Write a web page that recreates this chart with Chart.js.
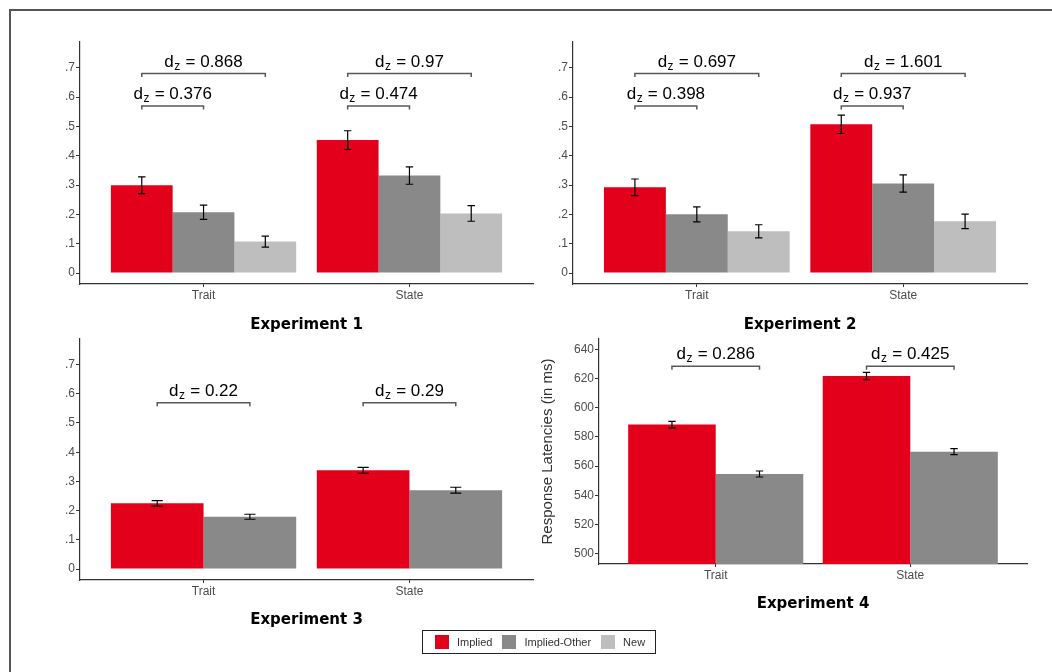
<!DOCTYPE html>
<html>
<head>
    <title>Experiments 1-4</title>
    <script src="https://cdn.jsdelivr.net/npm/chart.js"></script>
    <style>
        body { margin: 0; background: #fff; }
        #page { position: relative; width: 1052px; height: 672px; overflow: hidden; }
        #frame { position: absolute; left: 9px; top: 9px; width: 1100px; height: 700px;
                 border-left: 2px solid #555; border-top: 2px solid #555; }
        canvas { position: absolute; }
        #legend { position: absolute; left: 422px; top: 630px; width: 234px; height: 24px;
                  border: 1px solid #222; display: flex; align-items: center; padding-left: 12px;
                  box-sizing: border-box; white-space: nowrap; overflow: hidden;
                  font: 11px 'Liberation Sans', Arial, sans-serif; color: #333; }
        #legend .item { display: flex; align-items: center; margin-right: 10px; flex-shrink: 0; }
        #legend .sw { width: 14px; height: 14px; margin-right: 8px; flex-shrink: 0; }
    </style>
</head>
<body>
<div id="page">
    <div id="frame"></div>
    <canvas id="exp1" width="510" height="305" style="left:30px; top:30px"></canvas>
    <canvas id="exp2" width="510" height="305" style="left:530px; top:30px"></canvas>
    <canvas id="exp3" width="510" height="305" style="left:30px; top:330px"></canvas>
    <canvas id="exp4" width="510" height="290" style="left:530px; top:330px"></canvas>
    <div id="legend"></div>
</div>

<script>
    const categories = ['Trait', 'State'];
    const seriesNames = ['Implied', 'Implied-Other', 'New'];
    const seriesColors = ['#e2001a', '#898989', '#bebebe'];

    const propTicks = [0, 0.1, 0.2, 0.3, 0.4, 0.5, 0.6, 0.7];
    const propTickLabels = ['0', '.1', '.2', '.3', '.4', '.5', '.6', '.7'];
    const latencyTicks = [500, 520, 540, 560, 580, 600, 620, 640];
    const latencyTickLabels = ['500', '520', '540', '560', '580', '600', '620', '640'];

    // Experiment 1
    const exp1Implied = [0.299, 0.453];
    const exp1Other = [0.207, 0.332];
    const exp1New = [0.107, 0.203];
    const exp1ImpliedSe = [0.0285, 0.032];
    const exp1OtherSe = [0.0245, 0.0295];
    const exp1NewSe = [0.0185, 0.0265];
    const exp1Brackets = [
        { cat: 0, from: 0, to: 1, y: 0.569, d: '0.376' },
        { cat: 0, from: 0, to: 2, y: 0.68, d: '0.868' },
        { cat: 1, from: 0, to: 1, y: 0.569, d: '0.474' },
        { cat: 1, from: 0, to: 2, y: 0.68, d: '0.97' }
    ];

    // Experiment 2
    const exp2Implied = [0.292, 0.507];
    const exp2Other = [0.200, 0.305];
    const exp2New = [0.142, 0.176];
    const exp2ImpliedSe = [0.0285, 0.0315];
    const exp2OtherSe = [0.0255, 0.0295];
    const exp2NewSe = [0.0225, 0.025];
    const exp2Brackets = [
        { cat: 0, from: 0, to: 1, y: 0.569, d: '0.398' },
        { cat: 0, from: 0, to: 2, y: 0.68, d: '0.697' },
        { cat: 1, from: 0, to: 1, y: 0.569, d: '0.937' },
        { cat: 1, from: 0, to: 2, y: 0.68, d: '1.601' }
    ];

    // Experiment 3
    const exp3Implied = [0.225, 0.338];
    const exp3Other = [0.179, 0.270];
    const exp3ImpliedSe = [0.0095, 0.010];
    const exp3OtherSe = [0.0085, 0.010];
    const exp3Brackets = [
        { cat: 0, from: 0, to: 1, y: 0.569, d: '0.22' },
        { cat: 1, from: 0, to: 1, y: 0.569, d: '0.29' }
    ];

    // Experiment 4 (response latencies in ms)
    const exp4Implied = [588.4, 621.6];
    const exp4Other = [554.6, 569.9];
    const exp4ImpliedSe = [2.2, 2.5];
    const exp4OtherSe = [2.05, 2.05];
    const exp4Brackets = [
        { cat: 0, from: 0, to: 1, y: 628.3, d: '0.286' },
        { cat: 1, from: 0, to: 1, y: 628.3, d: '0.425' }
    ];

    const tickFont = { family: "'Liberation Sans', Arial, sans-serif", size: 12 };
    const titleFont = { family: "'DejaVu Sans', sans-serif", size: 15, weight: 'bold' };

    function drawEffect(ctx, cx, baseline, value) {
        const big = "17px 'Liberation Sans', Arial, sans-serif";
        const small = "12px 'Liberation Sans', Arial, sans-serif";
        const rest = ' = ' + value;
        ctx.font = big;
        const wd = ctx.measureText('d').width;
        const wr = ctx.measureText(rest).width;
        ctx.font = small;
        const wz = ctx.measureText('z').width + 1;
        let x = cx - (wd + wz + wr) / 2;
        ctx.fillStyle = '#000';
        ctx.textAlign = 'left';
        ctx.textBaseline = 'alphabetic';
        ctx.font = big;
        ctx.fillText('d', x, baseline);
        x += wd;
        ctx.font = small;
        ctx.fillText('z', x + 0.5, baseline + 3);
        x += wz;
        ctx.font = big;
        ctx.fillText(rest, x, baseline);
    }

    // error bars from the se arrays, drawn on top of the bars
    function errorBarPlugin(errors, capRatio) {
        return {
            id: 'errorBars',
            afterDatasetsDraw(chart) {
                const ctx = chart.ctx;
                const yScale = chart.scales.y;
                ctx.save();
                ctx.strokeStyle = '#000';
                ctx.lineWidth = 1.2;
                chart.data.datasets.forEach((ds, i) => {
                    chart.getDatasetMeta(i).data.forEach((bar, j) => {
                        const v = ds.data[j].y;
                        const e = errors[i][j];
                        const top = yScale.getPixelForValue(v + e);
                        const bot = yScale.getPixelForValue(v - e);
                        const half = bar.width * capRatio;
                        ctx.beginPath();
                        ctx.moveTo(bar.x, top); ctx.lineTo(bar.x, bot);
                        ctx.moveTo(bar.x - half, top); ctx.lineTo(bar.x + half, top);
                        ctx.moveTo(bar.x - half, bot); ctx.lineTo(bar.x + half, bot);
                        ctx.stroke();
                    });
                });
                ctx.restore();
            }
        };
    }

    // comparison brackets with effect sizes
    function bracketPlugin(brackets) {
        return {
            id: 'brackets',
            afterDatasetsDraw(chart) {
                const ctx = chart.ctx;
                const yScale = chart.scales.y;
                ctx.save();
                brackets.forEach(b => {
                    const x1 = chart.getDatasetMeta(b.from).data[b.cat].x;
                    const x2 = chart.getDatasetMeta(b.to).data[b.cat].x;
                    const py = yScale.getPixelForValue(b.y);
                    ctx.strokeStyle = '#595959';
                    ctx.lineWidth = 1.5;
                    ctx.beginPath();
                    ctx.moveTo(x1, py + 3.5);
                    ctx.lineTo(x1, py);
                    ctx.lineTo(x2, py);
                    ctx.lineTo(x2, py + 3.5);
                    ctx.stroke();
                    drawEffect(ctx, (x1 + x2) / 2, py - 7, b.d);
                });
                ctx.restore();
            }
        };
    }

    function makeChart(id, cfg) {
        const datasets = cfg.means.map((m, i) => ({
            label: seriesNames[i],
            data: m.map((v, j) => ({ x: j + 1, y: v })),
            backgroundColor: seriesColors[i],
            borderWidth: 0,
            categoryPercentage: 0.9,
            barPercentage: 1,
            clip: 0
        }));

        return new Chart(document.getElementById(id), {
            type: 'bar',
            data: { datasets: datasets },
            options: {
                responsive: false,
                animation: false,
                events: [],
                layout: { padding: cfg.padding },
                plugins: {
                    legend: { display: false },
                    tooltip: { enabled: false }
                },
                scales: {
                    x: {
                        type: 'linear',
                        min: 0.4,
                        max: 2.6,
                        offset: false,
                        afterBuildTicks: s => { s.ticks = categories.map((c, i) => ({ value: i + 1 })); },
                        afterFit: s => { s.height = cfg.xHeight; },
                        ticks: {
                            callback: (v, i) => categories[i],
                            font: tickFont,
                            color: '#4d4d4d',
                            padding: 1,
                            maxRotation: 0,
                            autoSkip: false
                        },
                        grid: { offset: false, drawOnChartArea: false, tickLength: 3, color: '#333' },
                        border: { color: '#333', width: 1.2 },
                        title: {
                            display: true,
                            text: cfg.title,
                            font: titleFont,
                            color: '#000',
                            padding: { top: 0, bottom: cfg.titlePad }
                        }
                    },
                    y: {
                        min: cfg.yMin,
                        max: cfg.yMax,
                        beginAtZero: false,
                        afterBuildTicks: s => { s.ticks = cfg.ticks.map(v => ({ value: v })); },
                        afterFit: s => { s.width = cfg.yWidth; },
                        ticks: {
                            callback: (v, i) => cfg.tickLabels[i],
                            font: tickFont,
                            color: '#4d4d4d',
                            padding: 1,
                            autoSkip: false
                        },
                        grid: { drawOnChartArea: false, tickLength: 4, color: '#333' },
                        border: { color: '#333', width: 1.2 },
                        title: cfg.yTitle ? {
                            display: true,
                            text: cfg.yTitle,
                            font: { family: "'Liberation Sans', Arial, sans-serif", size: 15 },
                            color: '#333',
                            padding: { top: 9, bottom: 0 }
                        } : { display: false }
                    }
                }
            },
            plugins: [errorBarPlugin(cfg.errors, cfg.capRatio), bracketPlugin(cfg.brackets)]
        });
    }

    makeChart('exp1', {
        title: 'Experiment 1',
        means: [exp1Implied, exp1Other, exp1New],
        errors: [exp1ImpliedSe, exp1OtherSe, exp1NewSe],
        brackets: exp1Brackets,
        yMin: -0.0375, yMax: 0.7875,
        ticks: propTicks, tickLabels: propTickLabels,
        padding: { top: 12, right: 7, bottom: 0, left: 0 },
        yWidth: 50, xHeight: 51, titlePad: 1, capRatio: 0.06
    });

    makeChart('exp2', {
        title: 'Experiment 2',
        means: [exp2Implied, exp2Other, exp2New],
        errors: [exp2ImpliedSe, exp2OtherSe, exp2NewSe],
        brackets: exp2Brackets,
        yMin: -0.0375, yMax: 0.7875,
        ticks: propTicks, tickLabels: propTickLabels,
        padding: { top: 12, right: 13, bottom: 0, left: 0 },
        yWidth: 43, xHeight: 51, titlePad: 1, capRatio: 0.06
    });

    makeChart('exp3', {
        title: 'Experiment 3',
        means: [exp3Implied, exp3Other],
        errors: [exp3ImpliedSe, exp3OtherSe],
        brackets: exp3Brackets,
        yMin: -0.0375, yMax: 0.7875,
        ticks: propTicks, tickLabels: propTickLabels,
        padding: { top: 9, right: 7, bottom: 0, left: 0 },
        yWidth: 50, xHeight: 55, titlePad: 5.5, capRatio: 0.06
    });

    makeChart('exp4', {
        title: 'Experiment 4',
        means: [exp4Implied, exp4Other],
        errors: [exp4ImpliedSe, exp4OtherSe],
        brackets: exp4Brackets,
        yMin: 493, yMax: 647,
        ticks: latencyTicks, tickLabels: latencyTickLabels,
        yTitle: 'Response Latencies (in ms)',
        padding: { top: 9, right: 13, bottom: 0, left: 0 },
        yWidth: 69, xHeight: 56, titlePad: 7, capRatio: 0.042
    });

    // shared legend
    const legend = document.getElementById('legend');
    seriesNames.forEach((name, i) => {
        const item = document.createElement('div');
        item.className = 'item';
        item.innerHTML = '<div class="sw" style="background:' + seriesColors[i] + '"></div><span>' + name + '</span>';
        legend.appendChild(item);
    });
</script>
</body>
</html>
